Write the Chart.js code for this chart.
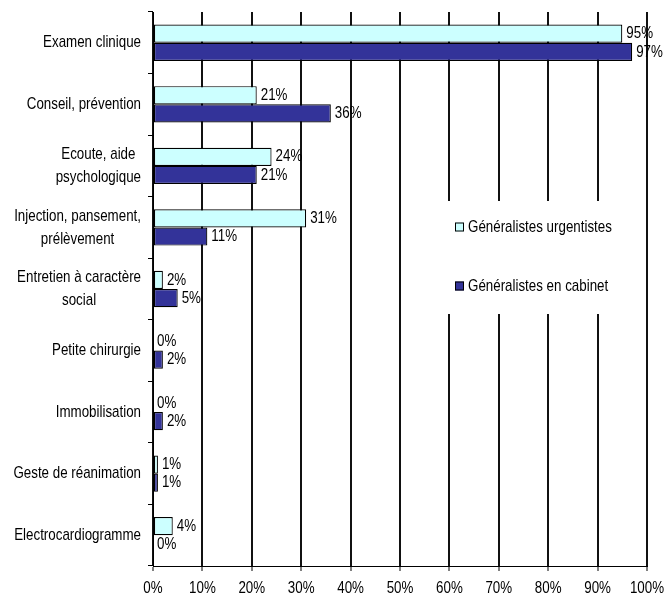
<!DOCTYPE html>
<html>
<head>
<meta charset="utf-8">
<script src="https://cdn.jsdelivr.net/npm/chart.js@4/dist/chart.umd.min.js"></script>
<style>
  html, body { margin: 0; padding: 0; background: #fff; }
  #wrap { width: 664px; height: 602px; position: relative; }
</style>
</head>
<body>
<div id="wrap"><canvas id="chart"></canvas></div>
<script>
const categories = [
  ["Examen clinique"],
  ["Conseil, prévention"],
  ["Ecoute, aide", "psychologique"],
  ["Injection, pansement,", "prélèvement"],
  ["Entretien à caractère", "social"],
  ["Petite chirurgie"],
  ["Immobilisation"],
  ["Geste de réanimation"],
  ["Electrocardiogramme"]
];
const urgentistes = [95, 21, 24, 31, 2, 0, 0, 1, 4];
const cabinet = [97, 36, 21, 11, 5, 2, 2, 1, 0];
const seriesNames = ["Généralistes urgentistes", "Généralistes en cabinet"];
const xTicks = [0, 10, 20, 30, 40, 50, 60, 70, 80, 90, 100];

const FONT = "17px 'Liberation Sans', Arial, sans-serif";
const SX = 0.785; // narrow the glyphs horizontally

function narrowText(ctx, text, x, y, align) {
  ctx.save();
  ctx.translate(x, y);
  ctx.scale(SX, 1);
  ctx.textAlign = align;
  ctx.textBaseline = "middle";
  ctx.fillText(text, 0, 0);
  ctx.restore();
}

// all text is drawn here so it can be condensed
const textPlugin = {
  id: "textPlugin",
  afterDraw(chart) {
    const ctx = chart.ctx;
    const xs = chart.scales.x;
    const ys = chart.scales.y;
    ctx.save();
    ctx.font = FONT;
    ctx.fillStyle = "#000";

    // category labels, each block right-aligned, lines centred
    categories.forEach((lines, i) => {
      const cy = ys.getPixelForValue(i);
      const w = Math.max(...lines.map(l => ctx.measureText(l).width)) * SX;
      const cx = 141 - w / 2;
      const lh = 23;
      lines.forEach((l, j) => {
        narrowText(ctx, l, cx, cy + (j - (lines.length - 1) / 2) * lh, "center");
      });
    });

    // x tick labels
    xTicks.forEach(v => {
      narrowText(ctx, v + "%", xs.getPixelForValue(v), chart.chartArea.bottom + 22, "center");
    });

    // value labels at the end of each bar
    chart.data.datasets.forEach((ds, di) => {
      const meta = chart.getDatasetMeta(di);
      meta.data.forEach((bar, i) => {
        narrowText(ctx, ds.data[i] + "%", bar.x + 4, bar.y, "left");
      });
    });

    // legend on a white box over the grid
    ctx.fillStyle = "#fff";
    ctx.fillRect(446, 201, 194, 113);
    const items = [
      { name: seriesNames[0], color: "#CCFFFF", y: 227 },
      { name: seriesNames[1], color: "#333399", y: 286 }
    ];
    items.forEach(it => {
      ctx.fillStyle = it.color;
      ctx.fillRect(455, it.y - 4.5, 9, 9);
      ctx.strokeStyle = "#000";
      ctx.lineWidth = 1;
      ctx.strokeRect(455.5, it.y - 4, 8, 8);
      ctx.fillStyle = "#000";
      narrowText(ctx, it.name, 468, it.y, "left");
    });
    ctx.restore();
  }
};

const ctx = document.getElementById("chart").getContext("2d");
new Chart(ctx, {
  type: "bar",
  data: {
    labels: categories,
    datasets: [
      {
        label: seriesNames[0],
        data: urgentistes,
        backgroundColor: "#CCFFFF",
        borderColor: "#000",
        borderWidth: 1.2,
        borderSkipped: false
      },
      {
        label: seriesNames[1],
        data: cabinet,
        backgroundColor: "#333399",
        borderColor: "#000",
        borderWidth: 1.2,
        borderSkipped: false
      }
    ]
  },
  options: {
    indexAxis: "y",
    responsive: true,
    maintainAspectRatio: false,
    animation: false,
    categoryPercentage: 0.59,
    barPercentage: 1,
    layout: { padding: { top: 12, right: 17, left: 0, bottom: 0 } },
    plugins: {
      legend: { display: false },
      tooltip: { enabled: false }
    },
    scales: {
      x: {
        min: 0,
        max: 100,
        ticks: { stepSize: 10, color: "rgba(0,0,0,0)" },
        grid: {
          color: "#111",
          lineWidth: 2,
          tickLength: 5,
          tickColor: "#000",
          tickWidth: 1
        },
        border: { display: true, color: "#000", width: 1 },
        afterFit(scale) { scale.height = 36; }
      },
      y: {
        ticks: { color: "rgba(0,0,0,0)" },
        grid: {
          drawOnChartArea: false,
          offset: true,
          tickLength: 5,
          tickColor: "#000",
          tickWidth: 1
        },
        border: { display: true, color: "#000", width: 1 },
        afterFit(scale) { scale.width = 153; }
      }
    }
  },
  plugins: [textPlugin]
});
</script>
</body>
</html>
